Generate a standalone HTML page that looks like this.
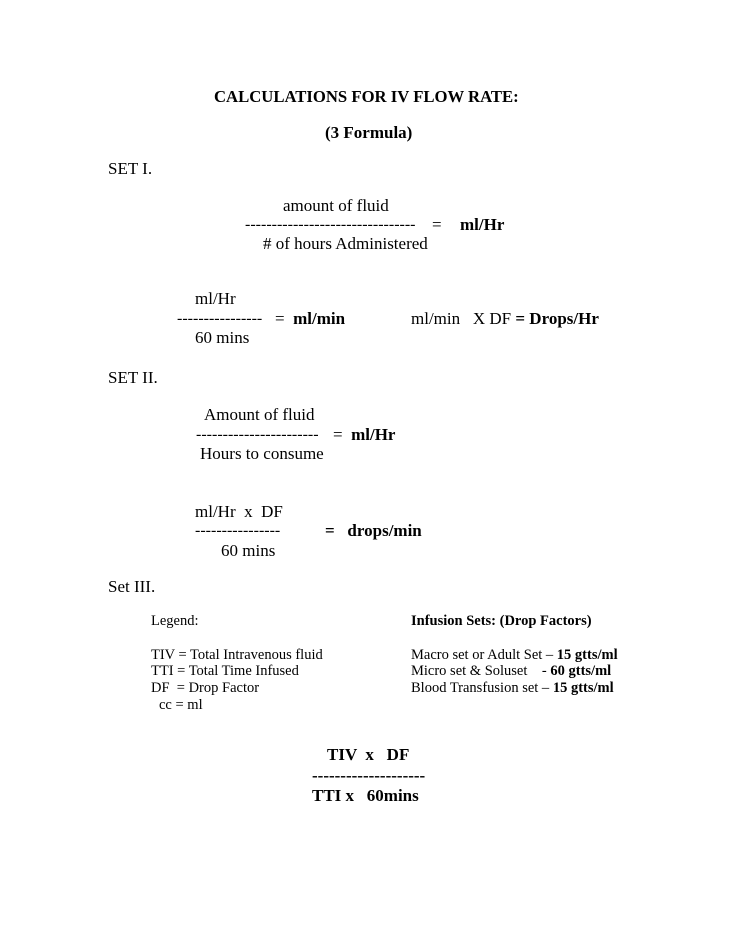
<!DOCTYPE html>
<html><head><meta charset="utf-8"><style>
body{margin:0;width:736px;height:952px;background:#fff;position:relative;font-family:"Liberation Serif",serif;color:#000;overflow:hidden}
span{position:absolute;white-space:pre;font-size:17px;line-height:18px}
.b{font-weight:bold}
.s{font-size:14.5px;line-height:16px}
.l{font-size:17px;line-height:19px;font-weight:bold}
</style></head><body>
<span class="b" style="left:214px;top:88px;font-size:16.7px">CALCULATIONS FOR IV FLOW RATE:</span>
<span class="b" style="left:325px;top:124px">(3 Formula)</span>
<span style="left:108px;top:160px">SET I.</span>
<span style="left:283px;top:197px">amount of fluid</span>
<span style="left:245px;top:216px;font-size:16px">--------------------------------</span>
<span style="left:432px;top:216px">=</span>
<span class="b" style="left:460px;top:216px">ml/Hr</span>
<span style="left:263px;top:235px"># of hours Administered</span>
<span style="left:195px;top:290px">ml/Hr</span>
<span style="left:177px;top:310px;font-size:16px">----------------</span>
<span style="left:275px;top:310px">=  <b>ml/min</b></span>
<span style="left:411px;top:310px">ml/min   X DF <b>= Drops/Hr</b></span>
<span style="left:195px;top:329px">60 mins</span>
<span style="left:108px;top:369px">SET II.</span>
<span style="left:204px;top:406px">Amount of fluid</span>
<span style="left:196px;top:426px;font-size:16px">-----------------------</span>
<span style="left:333px;top:426px">=  <b>ml/Hr</b></span>
<span style="left:200px;top:445px">Hours to consume</span>
<span style="left:195px;top:503px">ml/Hr  x  DF</span>
<span style="left:195px;top:522px;font-size:16px">----------------</span>
<span style="left:325px;top:522px"><b>=   drops/min</b></span>
<span style="left:221px;top:542px">60 mins</span>
<span style="left:108px;top:578px">Set III.</span>
<span class="s" style="left:151px;top:613px">Legend:</span>
<span class="s b" style="left:411px;top:613px">Infusion Sets: (Drop Factors)</span>
<span class="s" style="left:151px;top:647px">TIV = Total Intravenous fluid</span>
<span class="s" style="left:151px;top:663px">TTI = Total Time Infused</span>
<span class="s" style="left:151px;top:680px">DF  = Drop Factor</span>
<span class="s" style="left:159px;top:697px">cc = ml</span>
<span class="s" style="left:411px;top:647px">Macro set or Adult Set – <b>15 gtts/ml</b></span>
<span class="s" style="left:411px;top:663px">Micro set &amp; Soluset    - <b>60 gtts/ml</b></span>
<span class="s" style="left:411px;top:680px">Blood Transfusion set – <b>15 gtts/ml</b></span>
<span class="l" style="left:327px;top:745px">TIV  x   DF</span>
<span class="l" style="left:312px;top:766px">--------------------</span>
<span class="l" style="left:312px;top:786px">TTI x   60mins</span>
</body></html>
